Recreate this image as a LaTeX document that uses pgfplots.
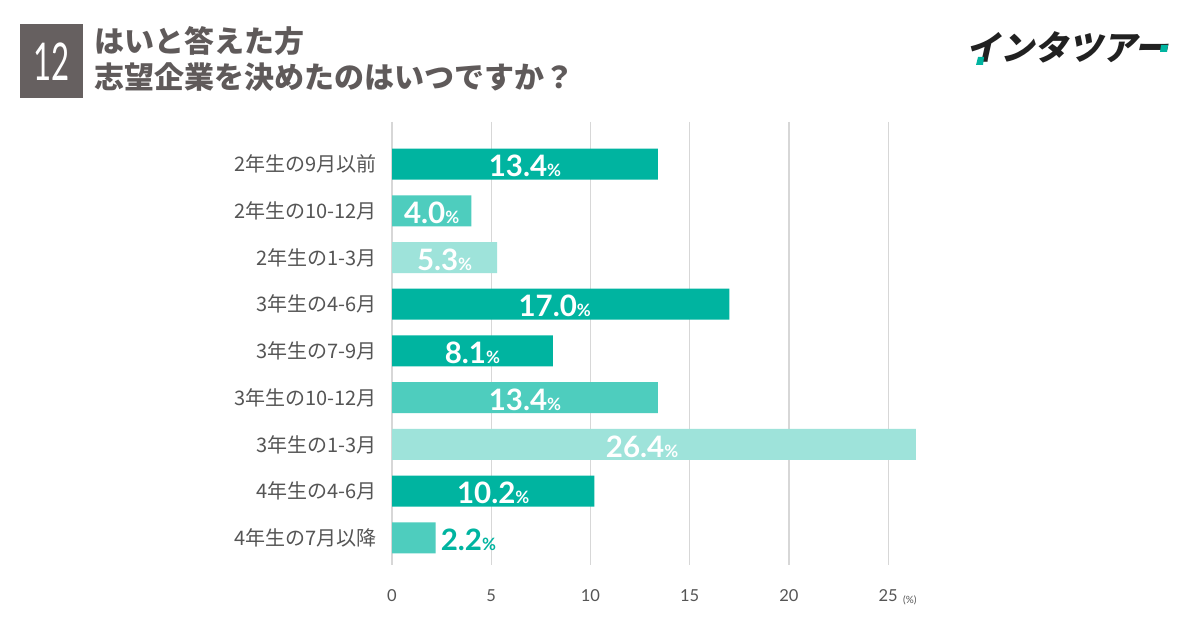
\documentclass[border=0pt]{standalone}
\usepackage{pgfplots}
\pgfplotsset{compat=1.18}
\usepackage{fontspec}
\setmainfont{Lato}
\newfontfamily\jp{Noto Sans CJK JP}
\newfontfamily\logo{Noto Sans CJK JP}[FakeSlant=0.22]
\definecolor{dark}{RGB}{0,180,160}
\definecolor{mid}{RGB}{78,205,190}
\definecolor{light}{RGB}{158,227,218}
\definecolor{titlegray}{RGB}{95,90,90}
\definecolor{boxgray}{RGB}{102,96,96}
\definecolor{labgray}{RGB}{85,85,85}
\definecolor{gridgray}{RGB}{215,215,215}
\newcommand\pct[1]{{\fontsize{29.5}{29.5}\selectfont\bfseries #1}{\fontsize{17}{17}\selectfont\bfseries\%}}

\begin{document}
\begin{tikzpicture}
\fill[white] (0pt,0pt) rectangle (1200pt,628pt);
\useasboundingbox (0pt,0pt) rectangle (1200pt,628pt);

% title block
\fill[boxgray] (20pt,530pt) rectangle (83pt,604pt);
\node[white,inner sep=0pt] at (51.5pt,566pt)
  {\scalebox{0.6}[1]{\fontsize{52}{52}\selectfont 12}};
\node[anchor=west,inner sep=0pt,text=titlegray] at (94pt,587pt)
  {\jp\bfseries\fontsize{30}{30}\selectfont はいと答えた方};
\node[anchor=west,inner sep=0pt,text=titlegray] at (94pt,551pt)
  {\jp\bfseries\fontsize{30}{30}\selectfont 志望企業を決めたのはいつですか？};

% logo
\node[inner sep=0pt,text=black!87] at (1067pt,581pt)
  {\logo\bfseries\fontsize{34}{34}\selectfont インタツアー};
\fill[dark] (976pt,563pt) -- (983pt,563pt) -- (984pt,571pt) -- (978pt,571pt) -- cycle;
\fill[dark] (1160pt,576pt) -- (1167pt,576pt) -- (1168pt,583pt) -- (1161pt,583pt) -- cycle;

\begin{axis}[
  at={(392pt,63pt)}, anchor=south west,
  scale only axis,
  width=516pt, height=443pt,
  xbar, bar width=31pt, bar shift=0pt,
  xmin=0, xmax=26,
  ymin=-0.9, ymax=8.58,
  y dir=reverse,
  axis line style={draw=none},
  major tick length=0pt,
  xtick={0,5,10,15,20,25},
  xmajorgrids,
  grid style={gridgray, line width=1.2pt},
  ytick={0,...,8},
  yticklabels={2年生の9月以前,2年生の10-12月,2年生の1-3月,3年生の4-6月,3年生の7-9月,3年生の10-12月,3年生の1-3月,4年生の4-6月,4年生の7月以降},
  yticklabel style={font=\jp\fontsize{20}{20}\selectfont, text=labgray, inner sep=0pt, xshift=-15pt},
  xticklabel style={font=\fontsize{16.5}{16.5}\selectfont, text=labgray, inner sep=0pt, yshift=-24pt},
  /pgf/number format/assume math mode=true,
  clip=false,
]
\addplot[fill=dark, draw=none] coordinates {(13.4,0) (17.0,3) (8.1,4) (10.2,7)};
\addplot[fill=mid, draw=none] coordinates {(4.0,1) (13.4,5) (2.2,8)};
\addplot[fill=light, draw=none] coordinates {(5.3,2) (26.4,6)};

\begin{scope}[every node/.style={text=white, inner sep=0pt, yshift=-2pt}]
\node at (axis cs:6.7,0) {\pct{13.4}};
\node at (axis cs:2.0,1) {\pct{4.0}};
\node at (axis cs:2.65,2) {\pct{5.3}};
\node at (axis cs:8.2,3) {\pct{17.0}};
\node at (axis cs:4.05,4) {\pct{8.1}};
\node at (axis cs:6.7,5) {\pct{13.4}};
\node at (axis cs:12.6,6) {\pct{26.4}};
\node at (axis cs:5.1,7) {\pct{10.2}};
\end{scope}
\node[text=dark, inner sep=0pt, anchor=west, yshift=-2pt] at (axis cs:2.2,8) {\hspace{5pt}\pct{2.2}};
\end{axis}
\node[anchor=west, inner sep=0pt, text=labgray] at (903pt,28pt) {\fontsize{10}{10}\selectfont (\%)};
\end{tikzpicture}
\end{document}
